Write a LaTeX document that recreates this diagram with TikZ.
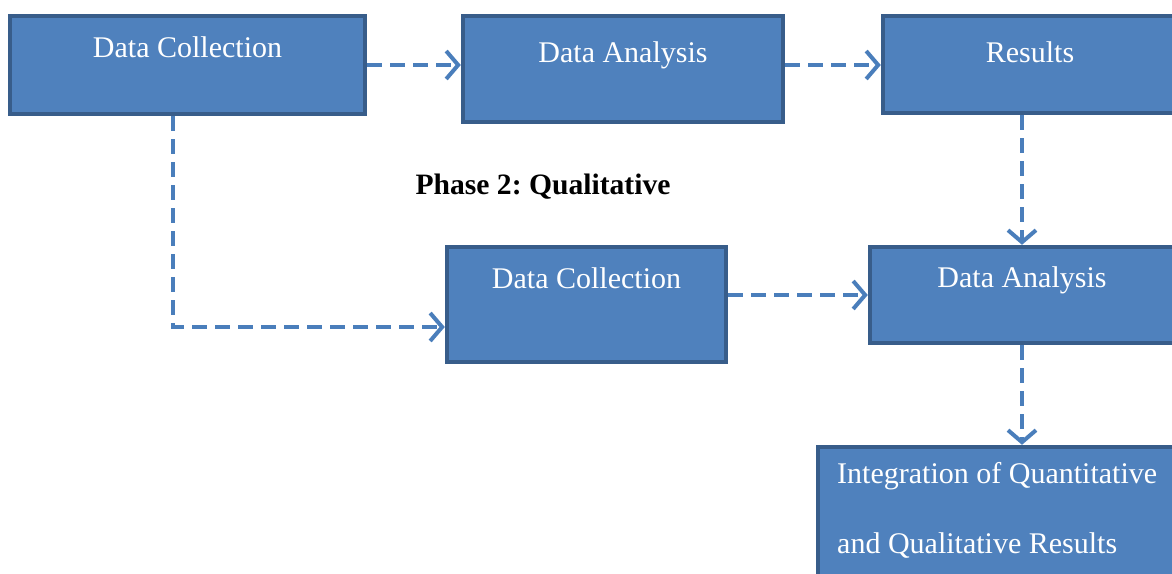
\documentclass[tikz,border=0pt]{standalone}
\usepackage{fontspec}
\setmainfont{Liberation Serif}
\usepackage{tikz}
\usetikzlibrary{arrows.meta}

\definecolor{boxfill}{HTML}{4F81BD}
\definecolor{boxline}{HTML}{385D8A}
\definecolor{flowblue}{HTML}{4A7EBB}

\begin{document}
\frenchspacing
\begin{tikzpicture}[x=0.5pt,y=-0.5pt,
    box/.style={draw=boxline, fill=boxfill, line width=2.2pt, text=white,
      inner sep=0pt, anchor=base, font=\fontsize{15}{18}\selectfont},
    flow/.style={draw=flowblue, line width=2pt, dash pattern=on 7.5pt off 4pt,
      -{Straight Barb[length=6pt,width=14pt]}},
    phase/.style={font=\fontsize{14.8}{18}\selectfont\bfseries}]
          \useasboundingbox (0,0) rectangle (1172,573);

          \node[box, minimum width=177.5pt, text height=20.5pt, text depth=28.5pt] (dc1) at (187.5,57) {Data Collection};
          \node[box, minimum width=160pt, text height=23pt, text depth=30pt] (da1) at (623,62) {Data Analysis};
          \node[box, minimum width=147pt, text height=23pt, text depth=25.5pt] (res) at (1030,62) {Results};

          \node[phase] (ph2) at (543,187) {Phase 2: Qualitative};

          \node[box, minimum width=139.5pt, text height=20.5pt, text depth=37pt] (dc2) at (586.5,288) {Data Collection};
          \node[box, minimum width=152pt, text height=20pt, text depth=28pt] (da2) at (1022,287) {Data Analysis};
          \node[box, anchor=base west, inner xsep=9.5pt, text height=18pt, text depth=58.5pt] (integ) at (816,483)
            {\parbox[t]{181pt}{\fontsize{15}{35}\selectfont\raggedright Integration of Quantitative\\and Qualitative Results}};

          \draw[flow] (dc1.east) -- (dc1.east -| da1.west);
          \draw[flow] (dc1.east -| da1.east) -- (dc1.east -| res.west);
          \draw[flow] (res.south -| da2.north) -- (da2.north);
          \draw[flow] ([xshift=-7.25pt]dc1.south) |- ([yshift=-11.25pt]dc2.west);
          \draw[flow] (da2.west -| dc2.east) -- (da2.west);
          \draw[flow] (da2.south) -- (da2.south |- integ.north);
        \end{tikzpicture}
\end{document}
